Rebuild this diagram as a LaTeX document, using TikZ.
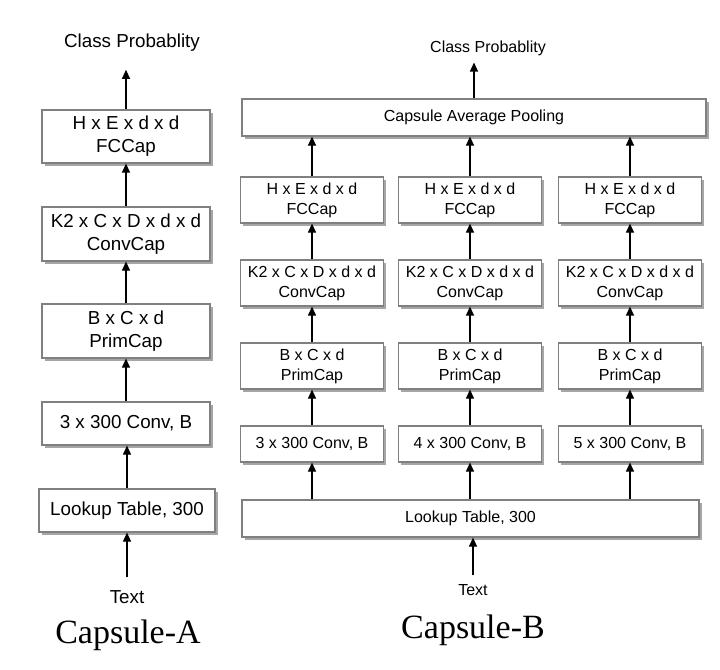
\documentclass[tikz,border=0pt]{standalone}
\usepackage{fontspec}
\setmainfont{Liberation Serif}
\setsansfont{Liberation Sans}
\usetikzlibrary{arrows.meta, shadows, calc}
\tikzset{
    capsnet/.style={
        font=\sffamily,
        >={Triangle[length=4.5pt, width=4pt]},
        box/.style={rectangle, draw=black!50, line width=0.6pt, fill=white, align=center, inner sep=1pt,
            drop shadow={shadow xshift=1.5pt, shadow yshift=-1.5pt, fill=black!35, opacity=1}},
        boxA/.style={box, font=\sffamily\fontsize{9.4}{11.5}\selectfont, minimum width=84pt},
        boxB/.style={box, font=\sffamily\fontsize{8}{10}\selectfont, minimum width=71.5pt},
        labelA/.style={font=\sffamily\fontsize{9.4}{11.5}\selectfont},
        labelB/.style={font=\sffamily\fontsize{8}{10}\selectfont},
        arrow/.style={->, line width=0.6pt},
        title/.style={font=\rmfamily\fontsize{17}{20}\selectfont}
    }
}
\begin{document}
\begin{tikzpicture}[capsnet, x=0.5pt, y=-0.5pt]
    \useasboundingbox (0,0) rectangle (720,670);

    % Capsule-A
    \node[labelA] (clsA) at (132,43) {Class Probablity};
    \node[boxA, minimum height=26.5pt] (fcA) at (126,136.5) {H x E x d x d\\FCCap};
    \node[boxA, minimum height=27pt] (ccA) at (126,234) {K2 x C x D x d x d\\ConvCap};
    \node[boxA, minimum height=27pt] (primA) at (126,331) {B x C x d\\PrimCap};
    \node[boxA, minimum height=21.5pt] (convA) at (126,423.5) {3 x 300 Conv, B};
    \node[boxA, minimum width=88pt, minimum height=21.5pt] (lookA) at (127,510.5) {Lookup Table, 300};
    \node[labelA] (inA) at (127,597) {Text};
    \node[title] (nameA) at (128,635) {Capsule-A};

    \draw[arrow, shorten <=3pt] (inA.north) -- (inA.north |- lookA.south);
    \draw[arrow] (lookA.north) -- (lookA.north |- convA.south);
    \draw[arrow] (convA) -- (primA);
    \draw[arrow] (primA) -- (ccA);
    \draw[arrow] (ccA) -- (fcA);
    \draw[arrow, shorten >=5.5pt] (fcA.north) -- (fcA.north |- clsA.south);

    % Capsule-B
    \node[labelB] (clsB) at (488,48) {Class Probablity};
    \node[boxB, minimum width=232pt, minimum height=18.5pt] (pool) at (474,117.5) {Capsule Average Pooling};
    \foreach \i/\x/\k in {1/312/3, 2/470/4, 3/630/5} {
        \node[boxB, minimum height=23pt] (fcB\i) at (\x,200) {H x E x d x d\\FCCap};
        \node[boxB, minimum height=23pt] (ccB\i) at (\x,283) {K2 x C x D x d x d\\ConvCap};
        \node[boxB, minimum height=23pt] (primB\i) at (\x,366) {B x C x d\\PrimCap};
        \node[boxB, minimum height=18pt] (convB\i) at (\x,444) {\k{} x 300 Conv, B};
    }
    \node[boxB, minimum width=228.5pt, minimum height=18.5pt] (lookB) at (470.5,518.5) {Lookup Table, 300};
    \node[labelB] (inB) at (473,590) {Text};
    \node[title] (nameB) at (473,630) {Capsule-B};

    \draw[arrow, shorten <=1pt] (inB.north) -- (inB.north |- lookB.south);
    \foreach \i in {1,2,3} {
        \draw[arrow] (convB\i |- lookB.north) -- (convB\i);
        \draw[arrow] (convB\i) -- (primB\i);
        \draw[arrow] (primB\i) -- (ccB\i);
        \draw[arrow] (ccB\i) -- (fcB\i);
        \draw[arrow] (fcB\i) -- (fcB\i |- pool.south);
    }
    \draw[arrow] (pool.north) -- (pool.north |- clsB.south);

\end{tikzpicture}
\end{document}
